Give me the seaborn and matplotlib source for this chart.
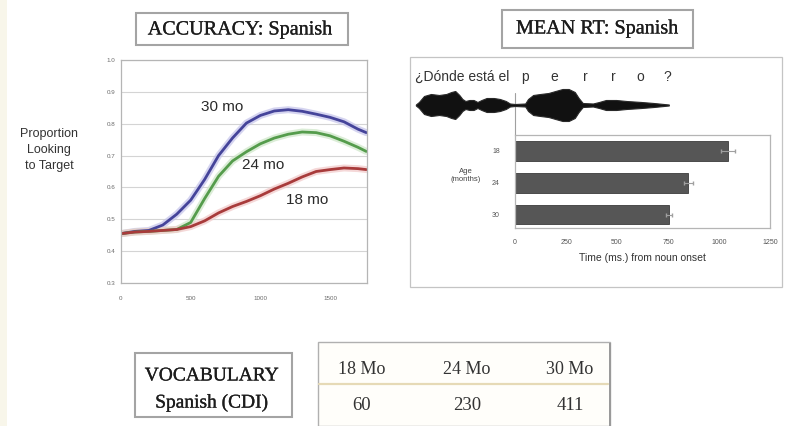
import numpy as np
import pandas as pd
import matplotlib
matplotlib.use("Agg")
import matplotlib.pyplot as plt
from matplotlib.patches import Rectangle
import matplotlib.patheffects as pe
import seaborn as sns

# ---- data -------------------------------------------------------------
time_ms = [0, 100, 200, 300, 400, 500, 600, 700, 800, 900, 1000, 1100,
           1200, 1300, 1400, 1500, 1600, 1700, 1760]
acc_30mo = [0.455, 0.462, 0.465, 0.482, 0.516, 0.560, 0.625, 0.700, 0.755,
            0.802, 0.826, 0.840, 0.844, 0.839, 0.830, 0.820, 0.806, 0.783, 0.772]
acc_24mo = [0.455, 0.460, 0.462, 0.465, 0.468, 0.490, 0.565, 0.635, 0.683,
            0.712, 0.737, 0.755, 0.767, 0.774, 0.772, 0.762, 0.745, 0.726, 0.713]
acc_18mo = [0.455, 0.460, 0.462, 0.465, 0.468, 0.477, 0.495, 0.520, 0.540,
            0.556, 0.574, 0.595, 0.613, 0.633, 0.650, 0.656, 0.661, 0.659, 0.656]
age_labels = ["30 mo", "24 mo", "18 mo"]

rt_ages = ["18", "24", "30"]
rt_mean = [1045, 850, 755]
rt_err = [34, 22, 15]

# speech envelope of the carrier sentence (time from noun onset, amplitude)
wave_ms = [-486, -471, -446, -412, -372, -337, -312, -293, -273, -258, -243,
           -223, -203, -184, -164, -139, -104, -74, -45, -25, 0, 50, 64, 89,
           124, 164, 198, 233, 263, 293, 312, 332, 382, 412, 446, 496, 546,
           620, 680, 754]
wave_amp = [0.5, 3, 9, 11, 10, 11, 13, 14, 10, 6, 4, 5, 5, 3, 5, 7, 7, 6, 4,
            1.5, 1, 1.5, 6, 10, 11, 12, 14, 16, 16, 13, 7, 2, 1.5, 3, 5, 5, 4,
            3, 2, 0.5]
carrier = "¿Dónde está el"
noun_letters = ["p", "e", "r", "r", "o", "?"]

vocab_ages = ["18 Mo", "24 Mo", "30 Mo"]
vocab_words = [60, 230, 411]

# ---- figure -------------------------------------------------------------
W, H = 787, 426
sns.set_theme(style="white")
plt.rcParams["font.family"] = ["Liberation Sans", "DejaVu Sans"]
fig = plt.figure(figsize=(W / 100, H / 100), dpi=100)
fig.patch.set_facecolor("white")


def rect(x0, y0, x1, y1):
    return [x0 / W, 1 - y1 / H, (x1 - x0) / W, (y1 - y0) / H]


def box(x0, y0, x1, y1, ec="#9a9a9a", lw=1.0, fc="none", z=0):
    fig.add_artist(Rectangle((x0 / W, 1 - y1 / H), (x1 - x0) / W, (y1 - y0) / H,
                             transform=fig.transFigure, ec=ec, fc=fc, lw=lw,
                             zorder=z))


serif = ["Liberation Serif", "DejaVu Serif"]
medium = [pe.withStroke(linewidth=0.2, foreground="#1c1c1c")]


def heading(x, y, s, size):
    fig.text(x / W, 1 - y / H, s, family=serif, fontsize=size, ha="center",
             va="center", color="#1c1c1c", path_effects=medium)


# cream edge on the left
box(0, 0, 7, H, ec="none", fc="#f8f6ea")

# ---- accuracy panel -----------------------------------------------------
box(136, 13, 348, 45, ec="#a4a4a4", lw=1.5)
heading(240, 30, "ACCURACY: Spanish", 14.5)

ax = fig.add_axes(rect(121, 60, 367, 283))
acc = pd.DataFrame({
    "ms": time_ms * 3,
    "prop": acc_30mo + acc_24mo + acc_18mo,
    "age": sum([[a] * len(time_ms) for a in age_labels], []),
})
palette = {"30 mo": "#45449a", "24 mo": "#559c4c", "18 mo": "#a83b3b"}
halo = {"30 mo": "#c4c3ea", "24 mo": "#cde6c6", "18 mo": "#f1c8c8"}
sns.lineplot(data=acc, x="ms", y="prop", hue="age", palette=halo, lw=5,
             legend=False, ax=ax, alpha=0.7)
sns.lineplot(data=acc, x="ms", y="prop", hue="age", palette=palette, lw=2,
             legend=False, ax=ax)
ax.set_xlim(0, 1765)
ax.set_ylim(0.3, 1.0)
ax.set_yticks(np.arange(0.3, 1.01, 0.1))
ax.set_yticklabels([f"{v:.1f}" for v in np.arange(0.3, 1.01, 0.1)])
ax.set_xticks([0, 500, 1000, 1500])
ax.yaxis.grid(True, color="#d4d4d4", lw=0.8)
ax.set_xlabel("")
ax.set_ylabel("")
for s in ax.spines.values():
    s.set_color("#b5b5b5")
    s.set_linewidth(0.9)
ax.tick_params(axis="both", labelsize=4.5, labelcolor="#6a6a6a", length=0, pad=4)
ax.tick_params(axis="x", length=2, color="#b5b5b5", pad=7)
label_pos = {"30 mo": (725, 0.851), "24 mo": (1019, 0.669), "18 mo": (1334, 0.559)}
for a in age_labels:
    ax.text(*label_pos[a], a, fontsize=11, ha="center", va="center",
            color="#2a2a2a")
fig.text(49 / W, 1 - 150 / H, "Proportion\nLooking\nto Target", fontsize=9,
         ha="center", va="center", color="#333333", linespacing=1.5)

# ---- reaction time panel -------------------------------------------------
box(502, 10, 693, 48, ec="#a4a4a4", lw=1.5)
heading(597, 29, "MEAN RT: Spanish", 14.5)
box(410, 57, 782, 287, ec="#c4c4c4", lw=0.9)

px_per_ms = 255 / 1250
axw = fig.add_axes(rect(412, 62, 770, 135))
axw.set_xlim(-(515 - 412) / px_per_ms, 1250)
axw.set_ylim(-30, 43)
axw.fill_between(wave_ms, [-v for v in wave_amp], wave_amp, color="#111111",
                 lw=0.8, ec="#2a2a2a")
axw.axvline(0, ymin=0, ymax=42 / 73, color="#a0a0a0", lw=0.8, zorder=0)
axw.text(-488, 28, carrier, fontsize=10, ha="left", va="center",
         color="#333333")
letter_x = [50, 193, 347, 481, 615, 744]
for lx, ch in zip(letter_x, noun_letters):
    axw.text(lx, 28, ch, fontsize=10, ha="center", va="center", color="#333333")
axw.axis("off")

axb = fig.add_axes(rect(515, 135, 770, 228))
rt = pd.DataFrame({"age": rt_ages, "rt": rt_mean})
sns.barplot(data=rt, y="age", x="rt", orient="h", color="#565656",
            saturation=1, width=0.6, errorbar=None, ax=axb,
            edgecolor="#3c3c3c", linewidth=0.6)
axb.errorbar(rt_mean, range(len(rt_ages)), xerr=rt_err, fmt="none",
             ecolor="#a0a0a0", elinewidth=0.8, capsize=1.5)
axb.set_xlim(0, 1250)
axb.set_ylim(2.41, -0.5)
axb.set_xticks([0, 250, 500, 750, 1000, 1250])
axb.set_xticks([0, 1000], minor=True)
axb.xaxis.grid(True, which="minor", color="#b0b0b0", lw=0.8)
axb.set_axisbelow(True)
axb.set_xlabel("Time (ms.) from noun onset", fontsize=7.5, color="#333333",
               labelpad=5)
axb.set_ylabel("")
for s in axb.spines.values():
    s.set_color("#b5b5b5")
    s.set_linewidth(0.9)
axb.tick_params(axis="both", which="major", labelsize=5, labelcolor="#555555",
                length=0, pad=8)
axb.tick_params(axis="y", which="major", pad=11)
axb.tick_params(axis="x", which="minor", length=0)
fig.text(466 / W, 1 - 175 / H, "Age\n(months)", fontsize=5.5, ha="center",
         va="center", color="#444444")

# ---- vocabulary -------------------------------------------------------
box(135, 353, 292, 417, ec="#a4a4a4", lw=1.5)
heading(212, 376, "VOCABULARY", 14)
heading(212, 403, "Spanish (CDI)", 14)

box(318, 342, 610, 426, ec="#b0b0b0", lw=1.0, fc="#fffefa")
box(609, 343, 611, 426, ec="none", fc="#9a9a9a", z=1)
fig.add_artist(plt.Line2D([319 / W, 608 / W], [1 - 384 / H, 1 - 384 / H],
                          transform=fig.transFigure, color="#e6dab6", lw=1.6))
col_x = [362, 467, 570]
for cx, a, n in zip(col_x, vocab_ages, vocab_words):
    fig.text(cx / W, 1 - 370 / H, a, family=serif, fontsize=13, ha="center",
             va="center", color="#333333")
    fig.text(cx / W, 1 - 405 / H, str(n), family=serif, fontsize=13.5,
             ha="center", va="center", color="#333333")

fig.savefig("out.png", dpi=100)
